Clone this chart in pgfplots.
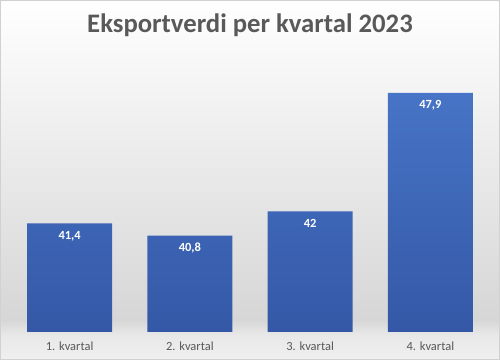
\documentclass[border=0pt]{standalone}
\usepackage{pgfplots}
\usepackage{pgfplotstable}
\pgfplotsset{compat=1.18}
\usepackage{fontspec}
\setmainfont{Carlito}
\definecolor{txtgray}{HTML}{595959}
\definecolor{barTop}{HTML}{4774C6}
\definecolor{barBot}{HTML}{3458A6}
\pgfdeclareverticalshading{bgshade}{100bp}{%
  color(0bp)=(white!94!black);
  color(25bp)=(white!94!black);
  color(28.5bp)=(white!91!black);
  color(30.6bp)=(white!84!black);
  color(47.2bp)=(white!90!black);
  color(61.1bp)=(white!95!black);
  color(75bp)=(white);
  color(100bp)=(white)}
\pgfplotstableread{
x v
0 41.4
1 40.8
2 42
3 47.9
}\datatable
\begin{document}
\begin{tikzpicture}
\path[use as bounding box] (0,0) rectangle (500bp,360bp);
\shade[shading=bgshade] (0,0) rectangle (500bp,360bp);
\draw[draw=white!82!black, line width=0.8bp] (0.4bp,0.4bp) rectangle (499.6bp,359.6bp);
\node[font=\fontsize{26.8}{30}\selectfont\bfseries, text=txtgray] at (250bp,335bp) {Eksportverdi per kvartal 2023};
\begin{axis}[
  at={(9.5bp,28bp)}, anchor=south west,
  scale only axis,
  width=481bp, height=281.4bp,
  xmin=-0.5, xmax=3.5,
  ymin=0, ymax=14,
  axis line style={draw=none},
  major tick length=0pt,
  ytick=\empty,
  xtick=data,
  xticklabels={1. kvartal,2. kvartal,3. kvartal,4. kvartal},
  xticklabel style={font=\fontsize{12.5}{14}\selectfont, text=txtgray, yshift=-6bp},
  ybar, bar width=85bp,
  /pgf/number format/assume math mode=true,
  /pgf/number format/use comma,
  /pgf/number format/fixed,
  /pgf/number format/precision=1,
  nodes near coords,
  every node near coord/.append style={anchor=north, yshift=-4bp, text=white, font=\fontsize{12.5}{14}\selectfont\bfseries},
  clip=false,
]
\addplot[draw=none, top color=barTop, bottom color=barBot, point meta=\thisrow{v}]
  table[x=x, y expr=\thisrow{v}-36] {\datatable};
\end{axis}
\end{tikzpicture}
\end{document}
